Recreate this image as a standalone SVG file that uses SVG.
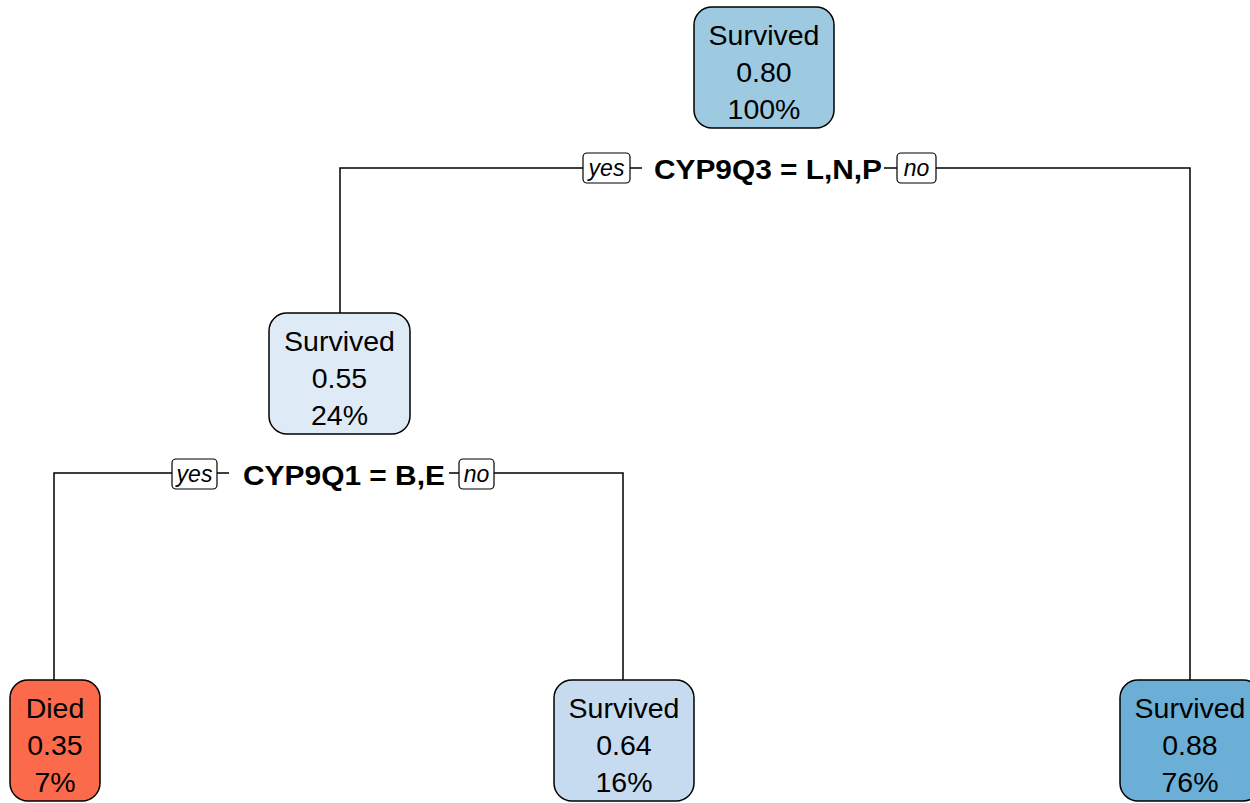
<svg xmlns="http://www.w3.org/2000/svg" width="1250" height="803" viewBox="0 0 1250 803">
<style>
.box{stroke:#000;stroke-width:1.5}
.nt{font-family:"Liberation Sans",Arial,sans-serif;font-size:28.5px;text-anchor:middle;fill:#000}
.sp{font-family:"Liberation Sans",Arial,sans-serif;font-size:27px;font-weight:bold;text-anchor:middle;fill:#000}
.yn{font-family:"Liberation Sans",Arial,sans-serif;font-size:23px;font-style:italic;text-anchor:middle;fill:#000}
.lb{fill:#fff;stroke:#000;stroke-width:1.2}
.ln{stroke:#000;stroke-width:1.5;fill:none}
</style>
<rect width="1250" height="803" fill="#fff"/>
<g id="connectors">
<path class="ln" d="M340,313 V168 H583 M630,168 H642 M884,168 H897 M936,168 H1190 V680"/>
<path class="ln" d="M54,680 V473 H172 M217,473 H229 M449,473 H459 M494,473 H623 V680"/>
</g>
<g id="split1">
<rect class="lb" x="583" y="153" width="47" height="30" rx="4"/>
<text class="yn" x="606.5" y="176">yes</text>
<text class="sp" x="768" y="179" textLength="228" lengthAdjust="spacingAndGlyphs">CYP9Q3 = L,N,P</text>
<rect class="lb" x="897" y="153" width="39" height="30" rx="4"/>
<text class="yn" x="916.5" y="176">no</text>
</g>
<g id="split2">
<rect class="lb" x="172" y="459" width="45" height="30" rx="4"/>
<text class="yn" x="194.5" y="482">yes</text>
<text class="sp" x="344" y="485" textLength="202" lengthAdjust="spacingAndGlyphs">CYP9Q1 = B,E</text>
<rect class="lb" x="459" y="459" width="35" height="30" rx="4"/>
<text class="yn" x="476.5" y="482">no</text>
</g>
<g id="node1">
<rect class="box" x="694" y="7" width="140" height="121" rx="18" fill="#9ECAE1"/>
<text class="nt" x="764" y="45">Survived</text>
<text class="nt" x="764" y="82">0.80</text>
<text class="nt" x="764" y="119">100%</text>
</g>
<g id="node2">
<rect class="box" x="269" y="313" width="141" height="121" rx="18" fill="#DEEBF7"/>
<text class="nt" x="339.5" y="351">Survived</text>
<text class="nt" x="339.5" y="388">0.55</text>
<text class="nt" x="339.5" y="425">24%</text>
</g>
<g id="node4">
<rect class="box" x="10" y="680" width="90" height="121" rx="18" fill="#FB6A4A"/>
<text class="nt" x="55" y="718">Died</text>
<text class="nt" x="55" y="755">0.35</text>
<text class="nt" x="55" y="792">7%</text>
</g>
<g id="node5">
<rect class="box" x="554" y="680" width="140" height="121" rx="18" fill="#C6DBEF"/>
<text class="nt" x="624" y="718">Survived</text>
<text class="nt" x="624" y="755">0.64</text>
<text class="nt" x="624" y="792">16%</text>
</g>
<g id="node3">
<rect class="box" x="1120" y="680" width="141" height="121" rx="18" fill="#6BAED6"/>
<text class="nt" x="1190" y="718">Survived</text>
<text class="nt" x="1190" y="755">0.88</text>
<text class="nt" x="1190" y="792">76%</text>
</g>
</svg>
